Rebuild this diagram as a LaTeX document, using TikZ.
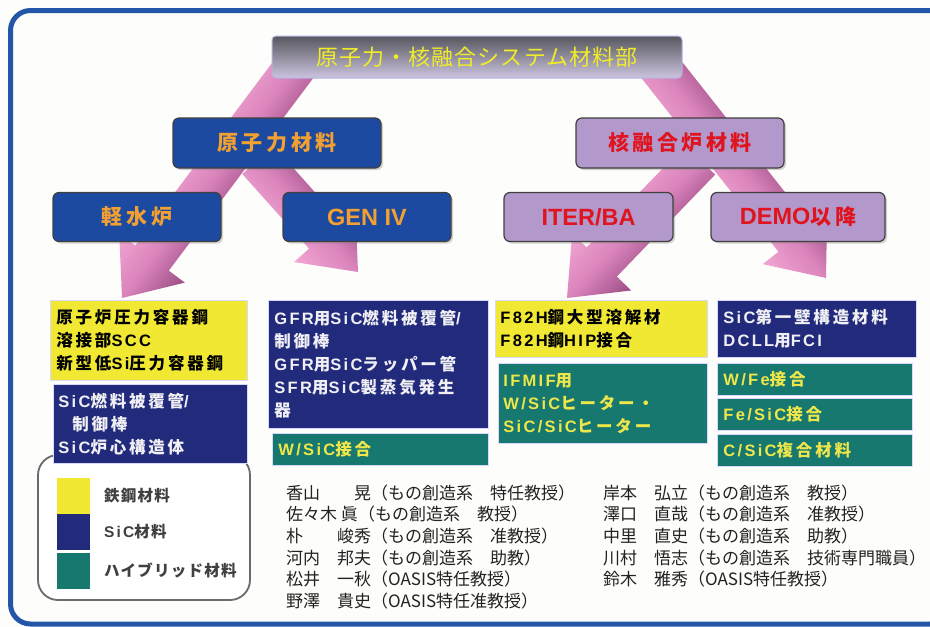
\documentclass[tikz,border=0pt]{standalone}
\usepackage{fontspec}
\setmainfont{Noto Sans CJK JP}
\newfontfamily\latfam{Liberation Sans}[LetterSpace=14]
\newfontfamily\latbig{Liberation Sans}
\newcommand\lt[1]{{\latfam #1}}
\newcommand\ltb[1]{{\latbig\fontsize{23.5}{26}\selectfont #1}}
\usetikzlibrary{shadows}
\definecolor{frameblue}{HTML}{2456A8}
\definecolor{bgw}{HTML}{FDFDFB}
\definecolor{boxblue}{HTML}{1C4AA0}
\definecolor{boxlav}{HTML}{B398CC}
\definecolor{txorange}{HTML}{F2A032}
\definecolor{txred}{HTML}{E0141E}
\definecolor{matyellow}{HTML}{F0E832}
\definecolor{matnavy}{HTML}{222A7C}
\definecolor{matteal}{HTML}{16786E}
\definecolor{tealtext}{HTML}{EEE64A}
\definecolor{navytext}{HTML}{F0F0F4}
\definecolor{legendgray}{HTML}{6A6A6A}
\definecolor{arrlight}{HTML}{F2A6D2}
\definecolor{arrmid}{HTML}{DA84BC}
\definecolor{arrdark}{HTML}{9C4C84}
\definecolor{topdark}{HTML}{57575F}
\definecolor{toplight}{HTML}{CCC4DE}
\definecolor{toptext}{HTML}{F0EC28}
\definecolor{nametext}{HTML}{222222}
\newcommand\blockarrow[2]{%
  \path (#1); \pgfgetlastxy{\bax}{\bay}%
  \path (#2); \pgfgetlastxy{\bbx}{\bby}%
  \pgfmathsetmacro\baang{atan2((\bby)-(\bay),(\bbx)-(\bax))}%
  \pgfmathsetmacro\balen{veclen((\bbx)-(\bax),(\bby)-(\bay))}%
  \pgfmathsetmacro\babase{\balen-50}%
  \begin{scope}[transform canvas={shift={(\bax,\bay)},rotate=\baang}]
    \shade[pinkarrow] (0pt,-21pt) -- (\babase pt,-21pt) -- (\babase pt,-41pt)
      -- (\balen pt,0pt) -- (\babase pt,41pt) -- (\babase pt,21pt) -- (0pt,21pt) -- cycle;
  \end{scope}}
\begin{document}
\begin{tikzpicture}[x=1pt,y=-1pt,
  pinkarrow/.style={top color=arrdark, bottom color=arrlight, middle color=arrmid},
  topbox/.style={rounded corners=4pt, draw=black!40!blue!30!white, line width=1pt,
    top color=topdark, bottom color=toplight, text=toptext,
    minimum width=410pt, minimum height=42pt, inner sep=0pt,
    font=\fontsize{22}{26}\selectfont\addfontfeature{LetterSpace=5}},
  lvbox/.style={rounded corners=6pt, draw=black!75, line width=1.2pt,
    minimum height=49pt, inner sep=0pt,
    drop shadow={shadow xshift=2pt, shadow yshift=-2pt, opacity=0.35},
    font=\bfseries\fontsize{21}{25}\selectfont\addfontfeature{LetterSpace=17}},
  bluebox/.style={lvbox, fill=boxblue, text=txorange},
  lavbox/.style={lvbox, fill=boxlav, text=txred},
  matbox/.style={anchor=north west, draw=white!85!blue, line width=0.8pt,
    inner xsep=6pt, inner ysep=0pt, align=left,
    font=\bfseries\fontsize{16.5}{23}\selectfont\addfontfeature{LetterSpace=17}},
  ybox/.style={matbox, fill=matyellow, text=black},
  nbox/.style={matbox, fill=matnavy, text=navytext},
  tbox/.style={matbox, fill=matteal, text=tealtext},
  swatch/.style={anchor=north west, minimum width=33pt, inner sep=0pt},
  legtext/.style={anchor=west, text=black!75, inner sep=0pt,
    font=\bfseries\fontsize{15.5}{18}\selectfont\addfontfeature{LetterSpace=8}},
  nametxt/.style={anchor=base west, inner sep=0pt, text=nametext,
    font=\fontsize{17}{20}\selectfont}]
\useasboundingbox (0,0) rectangle (930,627);
\fill[bgw] (0,0) rectangle (930,627);
\draw[frameblue, line width=5pt, rounded corners=20pt] (10.5,10.5) rectangle (950,624);

% arrow end points
\coordinate (a1s) at (308,50);  \coordinate (a1e) at (122,298);
\coordinate (a2s) at (258,160); \coordinate (a2e) at (358,272);
\coordinate (a3s) at (646,50);  \coordinate (a3e) at (826,278);
\coordinate (a4s) at (700,160); \coordinate (a4e) at (567,298);
\blockarrow{a2s}{a2e}
\blockarrow{a1s}{a1e}
\blockarrow{a4s}{a4e}
\blockarrow{a3s}{a3e}

% hierarchy boxes
\node[topbox] (top) at (477,57) {原子力・核融合システム材料部};
\node[bluebox, minimum width=208pt, minimum height=50pt] (nuc) at (277,143) {原子力材料};
\node[bluebox, minimum width=168pt] (lwr) at (137,217) {軽水炉};
\node[bluebox, minimum width=168pt] (gen) at (367,217) {\ltb{GEN IV}};
\node[lavbox, minimum width=208pt, minimum height=50pt] (fus) at (680,143) {核融合炉材料};
\node[lavbox, minimum width=169pt] (iter) at (588.5,217) {\ltb{ITER/BA}};
\node[lavbox, minimum width=174pt] (demo) at (798,217) {\ltb{DEMO}以降};

% legend
\draw[legendgray, line width=1.8pt, rounded corners=20pt, fill=white] (38,455) rectangle (250,600);
\node[swatch, fill=matyellow, minimum height=36pt] (sw1) at (57,478) {};
\node[swatch, fill=matnavy, minimum height=36pt] (sw2) at (57,514) {};
\node[swatch, fill=matteal, minimum height=36pt] (sw3) at (57,553) {};
\node[legtext] (lg1) at (104,496) {鉄鋼材料};
\node[legtext] (lg2) at (104,532) {\lt{SiC}材料};
\node[legtext] (lg3) at (104,571) {ハイブリッド材料};

% material boxes
\node[ybox, minimum width=197pt, minimum height=80pt, text width=185pt] (y1) at (50,300)
  {原子炉圧力容器鋼\\溶接部\lt{SCC}\\新型低\lt{Si}圧力容器鋼};
\node[nbox, minimum width=194pt, minimum height=79pt, text width=184pt, inner xsep=5pt] (n1) at (53,384)
  {\lt{SiC}燃料被覆管\lt{/}\\\hspace*{14pt}制御棒\\\lt{SiC}炉心構造体};
\node[nbox, minimum width=220pt, minimum height=128pt, text width=208pt] (n2) at (268,300)
  {\lt{GFR}用\lt{SiC}燃料被覆管\lt{/}\\制御棒\\\lt{GFR}用\lt{SiC}ラッパー管\\\lt{SFR}用\lt{SiC}製蒸気発生\\器};
\node[tbox, minimum width=216pt, minimum height=32pt, text width=204pt] (t2) at (272,433)
  {\lt{W/SiC}接合};
\node[ybox, minimum width=212pt, minimum height=57pt, text width=202pt, inner xsep=5pt] (y3) at (495,300)
  {\lt{F82H}鋼大型溶解材\\\lt{F82H}鋼\lt{HIP}接合};
\node[tbox, minimum width=209pt, minimum height=80pt, text width=199pt, inner xsep=5pt] (t3) at (498,363)
  {\lt{IFMIF}用\\\lt{W/SiC}ヒーター・\\\lt{SiC/SiC}ヒーター};
\node[nbox, minimum width=199pt, minimum height=57pt, text width=187pt] (n4) at (717,300)
  {\lt{SiC}第一壁構造材料\\\lt{DCLL}用\lt{FCI}};
\node[tbox, minimum width=195pt, minimum height=32pt, text width=183pt] (t4a) at (717,363) {\lt{W/Fe}接合};
\node[tbox, minimum width=195pt, minimum height=32pt, text width=183pt] (t4b) at (717,398) {\lt{Fe/SiC}接合};
\node[tbox, minimum width=195pt, minimum height=32pt, text width=183pt] (t4c) at (717,434) {\lt{C/SiC}複合材料};

% staff lists
\node[nametxt] (nl1) at (286,499.0) {香山　　晃（もの創造系　特任教授）};
\node[nametxt] (nl2) at (286,520.7) {佐々木 眞（もの創造系　教授）};
\node[nametxt] (nl3) at (286,542.4) {朴　　峻秀（もの創造系　准教授）};
\node[nametxt] (nl4) at (286,564.1) {河内　邦夫（もの創造系　助教）};
\node[nametxt] (nl5) at (286,585.8) {松井　一秋（OASIS特任教授）};
\node[nametxt] (nl6) at (286,607.5) {野澤　貴史（OASIS特任准教授）};
\node[nametxt] (nr1) at (603,499.0) {岸本　弘立（もの創造系　教授）};
\node[nametxt] (nr2) at (603,520.7) {澤口　直哉（もの創造系　准教授）};
\node[nametxt] (nr3) at (603,542.4) {中里　直史（もの創造系　助教）};
\node[nametxt] (nr4) at (603,564.1) {川村　悟志（もの創造系　技術専門職員）};
\node[nametxt] (nr5) at (603,585.8) {鈴木　雅秀（OASIS特任教授）};
\end{tikzpicture}
\end{document}
